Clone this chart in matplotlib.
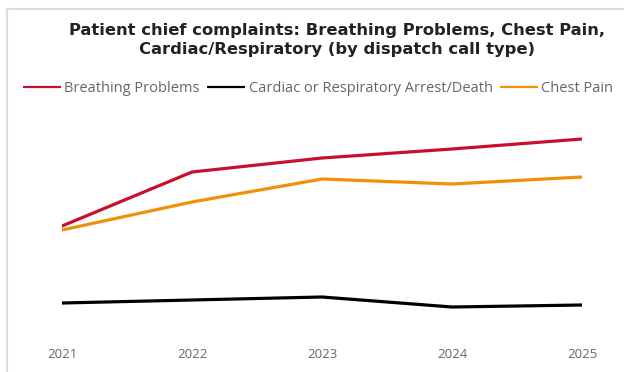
import matplotlib.pyplot as plt
from matplotlib.lines import Line2D

# data (relative units; chart has no y axis)
years = [2021, 2022, 2023, 2024, 2025]
breathing = [114, 168, 182, 191, 201]
chest_pain = [110, 138, 161, 156, 163]
cardiac = [37, 40, 43, 33, 35]

W, H = 624, 372

fig = plt.figure(figsize=(W / 100, H / 100), dpi=100)
fig.patch.set_facecolor("white")

# axes placed in pixel terms
left, right = 62, 582
top, bottom = 110, 340
ax = fig.add_axes([left / W, 1 - bottom / H, (right - left) / W, (bottom - top) / H])

ax.plot(years, breathing, color="#C8102E", lw=2.3, solid_capstyle="round", label="Breathing Problems")
ax.plot(years, cardiac, color="#000000", lw=2.3, solid_capstyle="round", label="Cardiac or Respiratory Arrest/Death")
ax.plot(years, chest_pain, color="#F0900A", lw=2.3, solid_capstyle="round", label="Chest Pain")

ax.set_xlim(2021, 2025)
ax.set_ylim(0, 230)
ax.set_xticks(years)
ax.set_xticklabels([str(y) for y in years])
ax.set_yticks([])
for s in ax.spines.values():
    s.set_visible(False)
ax.tick_params(axis="x", length=0, pad=6, labelsize=9.5, labelcolor="#666666")
for lab in ax.get_xticklabels():
    lab.set_fontfamily("Open Sans")

# title
fig.text(337 / W, 1 - 40 / H,
         "Patient chief complaints: Breathing Problems, Chest Pain,\nCardiac/Respiratory (by dispatch call type)",
         ha="center", va="center", fontsize=11.8, fontweight="bold",
         fontfamily="DejaVu Sans", color="#222222", linespacing=1.3)

# legend
handles, labels = ax.get_legend_handles_labels()
leg = fig.legend(handles, labels, loc="center", bbox_to_anchor=(318 / W, 1 - 89 / H),
                 ncol=3, frameon=False, handlelength=2.6, handletextpad=0.25,
                 columnspacing=0.5, borderpad=0, prop={"family": "Open Sans", "size": 10.5})
for t in leg.get_texts():
    t.set_color("#666666")
for h in leg.get_lines():
    h.set_linewidth(1.6)
    h.set_solid_capstyle("butt")

# card border (top and left)
fig.add_artist(Line2D([7 / W, 1], [1 - 9 / H, 1 - 9 / H], transform=fig.transFigure,
                      color="#dcdcdc", lw=1.5))
fig.add_artist(Line2D([7 / W, 7 / W], [0, 1 - 9 / H], transform=fig.transFigure,
                      color="#dcdcdc", lw=1.5))

fig.savefig("out.png", dpi=100)
